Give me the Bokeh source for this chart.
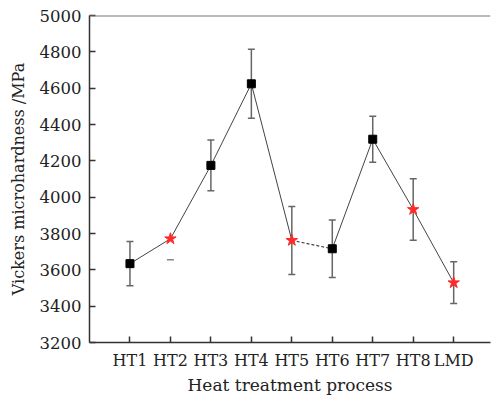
from bokeh.plotting import figure
from bokeh.models import Range1d, FixedTicker, ColumnDataSource, Whisker, TeeHead, Span
from bokeh.embed import file_html
from bokeh.resources import INLINE

# ---- data ----
labels = ["HT1", "HT2", "HT3", "HT4", "HT5", "HT6", "HT7", "HT8", "LMD"]
hardness = [3634, 3771, 4175, 4624, 3762, 3716, 4319, 3932, 3529]
errors = [122, 115, 140, 190, 187, 158, 127, 169, 115]
marker_kind = ["square", "star", "square", "square", "star", "square", "square", "star", "star"]
stem_visible = [True, False, True, True, True, True, True, True, True]
dashed_link = [False, False, False, False, True, False, False, False]  # link i -> i+1
y_ticks = [3200, 3400, 3600, 3800, 4000, 4200, 4400, 4600, 4800, 5000]

xs = list(range(1, len(labels) + 1))

FONT = "DejaVu Serif"

p = figure(width=491, height=398, output_backend="svg", toolbar_location=None,
           x_range=Range1d(0, 9.91), y_range=Range1d(3200, 5000),
           min_border_left=89, min_border_right=1, min_border_top=15, min_border_bottom=56)
p.grid.visible = False
p.outline_line_color = None
p.background_fill_color = "white"

# axes styling
for ax in (p.xaxis[0], p.yaxis[0]):
    ax.axis_line_color = "#333333"
    ax.axis_line_width = 1.5
    ax.major_tick_line_color = "#333333"
    ax.major_tick_line_width = 1.5
    ax.major_tick_in = 6
    ax.major_tick_out = 0
    ax.minor_tick_line_color = None
    ax.major_label_text_font = FONT
    ax.major_label_text_color = "#222222"
    ax.axis_label_text_font = FONT
    ax.axis_label_text_font_style = "normal"
    ax.axis_label_text_color = "#222222"

p.xaxis.ticker = FixedTicker(ticks=xs)
p.xaxis.major_label_overrides = {x: l for x, l in zip(xs, labels)}
p.xaxis.major_label_text_font_size = "16px"
p.xaxis.major_label_standoff = 8
p.xaxis.axis_label = "Heat treatment process"
p.xaxis.axis_label_text_font_size = "17px"
p.xaxis.axis_label_standoff = 2

p.yaxis.ticker = FixedTicker(ticks=y_ticks)
p.yaxis.major_label_text_font_size = "16.5px"
p.yaxis.major_label_standoff = 8
p.yaxis.axis_label = "Vickers microhardness /MPa"
p.yaxis.axis_label_text_font_size = "16px"
p.yaxis.axis_label_standoff = 9

# top frame line
p.add_layout(Span(location=5000, dimension="width", line_color="#777777", line_width=2))

# connecting lines
solid = [i for i, d in enumerate(dashed_link) if not d]
dashed = [i for i, d in enumerate(dashed_link) if d]
p.segment(x0=[xs[i] for i in solid], y0=[hardness[i] for i in solid],
          x1=[xs[i + 1] for i in solid], y1=[hardness[i + 1] for i in solid],
          line_color="#444444", line_width=1)
p.segment(x0=[xs[i] for i in dashed], y0=[hardness[i] for i in dashed],
          x1=[xs[i + 1] for i in dashed], y1=[hardness[i + 1] for i in dashed],
          line_color="#444444", line_width=1.2, line_dash="3 2")

# error bars
lower = [h - e for h, e in zip(hardness, errors)]
upper = [h + e for h, e in zip(hardness, errors)]
idx_full = [i for i, s in enumerate(stem_visible) if s]
idx_low = [i for i, s in enumerate(stem_visible) if not s]
src_full = ColumnDataSource(dict(x=[xs[i] for i in idx_full],
                                 lo=[lower[i] for i in idx_full],
                                 hi=[upper[i] for i in idx_full]))
p.add_layout(Whisker(source=src_full, base="x", lower="lo", upper="hi",
                     line_color="#666666", line_width=1.5,
                     upper_head=TeeHead(size=7, line_color="#666666", line_width=1.5),
                     lower_head=TeeHead(size=7, line_color="#666666", line_width=1.5)))
src_low = ColumnDataSource(dict(x=[xs[i] for i in idx_low],
                                lo=[lower[i] for i in idx_low],
                                hi=[hardness[i] for i in idx_low]))
p.add_layout(Whisker(source=src_low, base="x", lower="lo", upper="hi",
                     line_alpha=0, upper_head=None,
                     lower_head=TeeHead(size=7, line_color="#888888", line_width=1.5)))

# markers
sq = [i for i, k in enumerate(marker_kind) if k == "square"]
st = [i for i, k in enumerate(marker_kind) if k == "star"]
p.scatter([xs[i] for i in sq], [hardness[i] for i in sq], marker="square",
          size=8, fill_color="black", line_color="black")
p.scatter([xs[i] for i in st], [hardness[i] for i in st], marker="star",
          size=12, fill_color="#ff2a2a", line_color="#ff2a2a")

open("out.html", "w").write(file_html(p, INLINE))
